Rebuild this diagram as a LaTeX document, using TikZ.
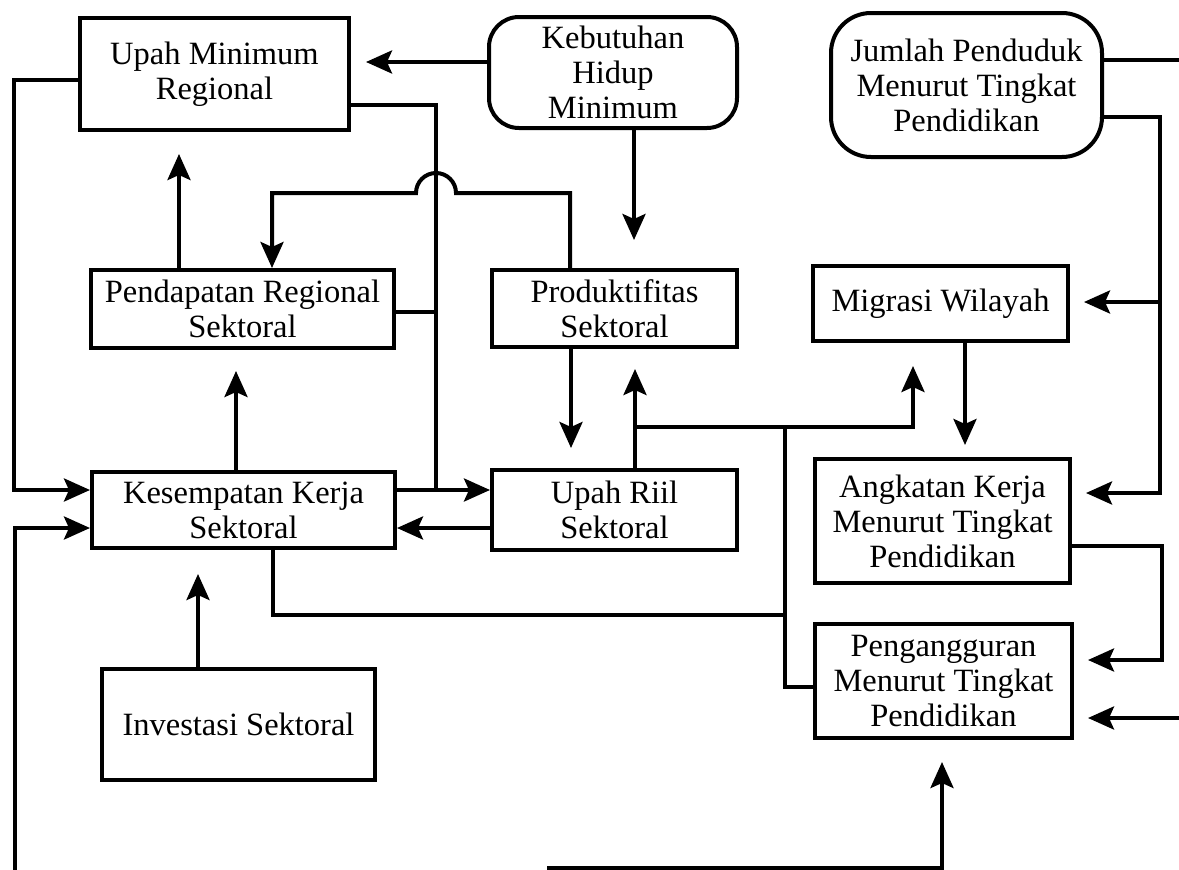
\documentclass[tikz,border=0pt]{standalone}
\usepackage{fontspec}
\setmainfont{Liberation Serif}
\usetikzlibrary{arrows.meta}
\begin{document}
\begin{tikzpicture}[x=1pt,y=-1pt,
  line width=4pt,
  box/.style={draw, rectangle, inner sep=0pt, align=center,
              font=\fontsize{32.5}{35}\selectfont},
  rbox/.style={box, rounded corners=#1},
  arr/.style={-{Stealth[length=26pt,width=23pt,inset=5pt]}}]
\useasboundingbox (0,0) rectangle (1179,870);
\fill[white] (0,0) rectangle (1179,870);
\begin{scope}
\clip (0,0) rectangle (1179,870);

% boxes
\node[box, minimum width=269pt, minimum height=112pt] (umr) at (214.5,74) {Upah Minimum\\Regional};
\node[rbox=30pt, minimum width=248pt, minimum height=111pt] (khm) at (613,72.5) {Kebutuhan\\Hidup\\Minimum};
\node[rbox=40pt, minimum width=271pt, minimum height=144pt] (jp) at (966.5,85) {Jumlah Penduduk\\Menurut Tingkat\\Pendidikan};
\node[box, minimum width=303pt, minimum height=78pt] (prs) at (242.5,309) {Pendapatan Regional\\Sektoral};
\node[box, minimum width=245pt, minimum height=77pt] (ps) at (614.5,308.5) {Produktifitas\\Sektoral};
\node[box, minimum width=255pt, minimum height=75pt] (mw) at (940.5,303.5) {Migrasi Wilayah};
\node[box, minimum width=303pt, minimum height=76pt] (kks) at (243.5,510) {Kesempatan Kerja\\Sektoral};
\node[box, minimum width=245pt, minimum height=80pt] (urs) at (614.5,510) {Upah Riil\\Sektoral};
\node[box, minimum width=255pt, minimum height=124pt] (ak) at (942.5,521) {Angkatan Kerja\\Menurut Tingkat\\Pendidikan};
\node[box, minimum width=257pt, minimum height=114pt] (pmt) at (943.5,681) {Pengangguran\\Menurut Tingkat\\Pendidikan};
\node[box, minimum width=273pt, minimum height=111pt] (inv) at (238.5,724.5) {Investasi Sektoral};

% left-hand connectors
\draw[arr, shorten >=15pt] (khm.west |- 0,62) -- (umr.east |- 0,62);
\draw[arr] (umr.west |- 0,80) -- (14,80) -- (14,490) -- (kks.west |- 0,490);
\draw (umr.east |- 0,105) -- (436,105) -- (436,490);
\draw (prs.east |- 0,312) -- (436,312);
\draw[arr] (kks.east |- 0,490) -- (urs.west |- 0,490);
\draw[arr] (urs.west |- 0,528) -- (kks.east |- 0,528);
\draw[arr] (ps.north -| 570,0) -- (570,193) -- (456,193)
  arc[start angle=0, end angle=-180, radius=20] -- (272,193) -- (prs.north -| 272,0);
\draw[arr, shorten >=22pt] (prs.north -| 179,0) -- (umr.south -| 179,0);
\draw[arr, shorten >=21pt] (kks.north -| 236,0) -- (prs.south -| 236,0);
\draw[arr, shorten >=24pt] (inv.north -| 198,0) -- (kks.south -| 198,0);

% middle connectors
\draw[arr, shorten >=28pt] (khm.south -| 634,0) -- (ps.north -| 634,0);
\draw[arr, shorten >=20pt] (ps.south -| 571,0) -- (urs.north -| 571,0);
\draw[arr, shorten >=20pt] (urs.north -| 635,0) -- (ps.south -| 635,0);
\draw[arr, shorten >=23pt] (635,427) -- (913,427) -- (mw.south -| 913,0);
\draw (kks.south -| 273,0) -- (273,615) -- (785,615);
\draw (785,427) -- (785,687) -- (pmt.west |- 0,687);

% right-hand connectors
\draw[arr, shorten >=12pt] (mw.south -| 965,0) -- (ak.north -| 965,0);
\draw[arr, shorten >=14pt] (jp.east |- 0,117) -- (1160,117) -- (1160,493) -- (ak.east |- 0,493);
\draw[arr, shorten >=14pt] (1160,302) -- (mw.east |- 0,302);
\coordinate (rimTop) at (1179,60);
\draw (jp.east |- 0,60) -- (rimTop);
\draw[arr, shorten >=14pt] (ak.east |- 0,546) -- (1162,546) -- (1162,660) -- (pmt.east |- 0,660);
\coordinate (rimLow) at (1179,718);
\draw[arr, shorten >=14pt] (rimLow) -- (pmt.east |- 0,718);

% bottom loop
\coordinate (footL) at (15,870);
\draw[arr] (footL) -- (15,528) -- (kks.west |- 0,528);
\coordinate (footR) at (547,868);
\draw[arr, shorten >=22pt] (footR) -- (942,868) -- (pmt.south -| 942,0);
\end{scope}
\end{tikzpicture}
\end{document}
